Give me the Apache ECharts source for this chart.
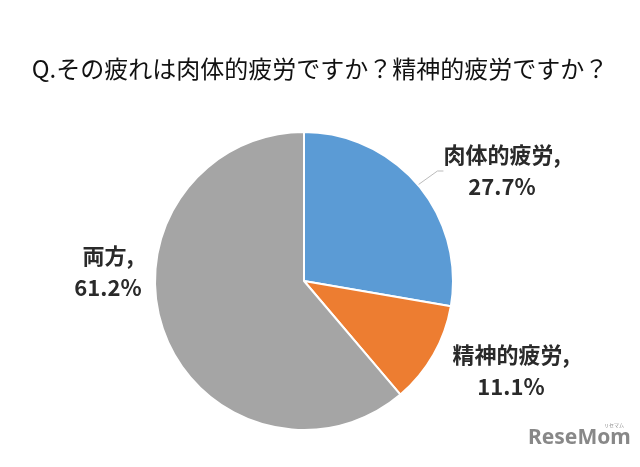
<!DOCTYPE html>
<html><head><meta charset="utf-8">
<script src="https://cdn.jsdelivr.net/npm/echarts@6/dist/echarts.min.js"></script>
<style>html,body{margin:0;padding:0;background:#fff}#c{width:640px;height:467px}</style>
</head><body><div id="c"></div>
<script>
var categories = ['肉体的疲労', '精神的疲労', '両方'];
var values = [27.7, 11.1, 61.2];
var colors = ['#5B9BD5', '#ED7D31', '#A5A5A5'];
var titleText = 'Q.その疲れは肉体的疲労ですか？精神的疲労ですか？';
var labelPos = [[502, 171], [511, 371], [108, 272]];

var chart = echarts.init(document.getElementById('c'));
chart.setOption({
  backgroundColor: '#fff',
  animation: false,
  title: {
    text: titleText, left: 'center', top: 52,
    textStyle: {fontFamily: 'Noto Sans CJK JP', fontSize: 24, fontWeight: 'normal', color: '#111'}
  },
  graphic: [
    {type: 'text', left: 528, top: 428, style: {text: 'ReseMom', fontFamily: 'Noto Sans', fontWeight: 'bold', fontSize: 21, fill: '#888'}},
    {type: 'text', left: 604, top: 423, style: {text: 'リセマム', fontFamily: 'Noto Sans CJK JP', fontSize: 5, fill: '#888'}}
  ],
  series: [{
    type: 'pie',
    center: [304, 281],
    radius: 149,
    startAngle: 90,
    clockwise: true,
    itemStyle: {borderColor: '#fff', borderWidth: 2},
    label: {
      show: true,
      formatter: '{b},\n{c}%',
      fontFamily: 'Noto Sans CJK JP',
      fontSize: 22,
      fontWeight: 'bold',
      lineHeight: 32,
      color: '#2a2a2a',
      align: 'center'
    },
    labelLine: {show: true, length: 8, length2: 6, lineStyle: {color: '#bbb', width: 1}},
    labelLayout: function (p) {
      return {x: labelPos[p.dataIndex][0], y: labelPos[p.dataIndex][1], align: 'center', verticalAlign: 'middle'};
    },
    data: categories.map(function (n, i) {
      return {name: n, value: values[i], itemStyle: {color: colors[i]}, labelLine: {show: i === 0}};
    })
  }]
});
</script></body></html>
